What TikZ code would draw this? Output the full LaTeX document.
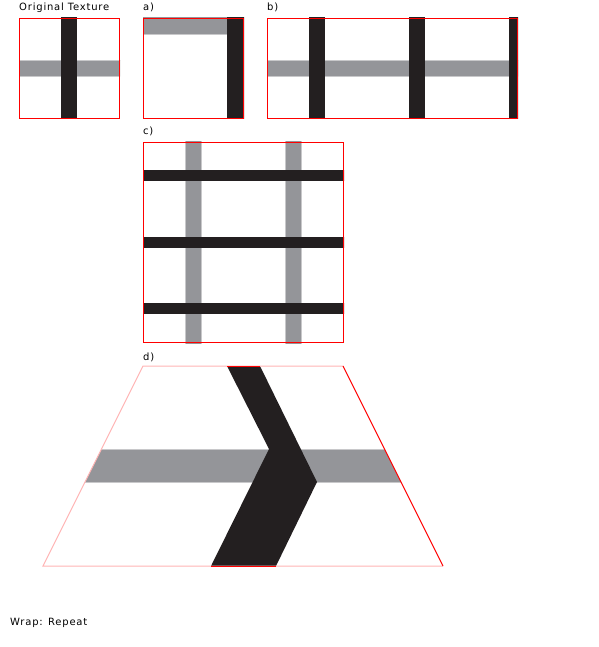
\documentclass[tikz,border=0pt]{standalone}
\usepackage{fontspec}
\setmainfont[LetterSpace=8]{DejaVu Sans}
\usepackage{xcolor}
\usepackage{tikz}

\definecolor{texgray}{RGB}{148,149,153}
\definecolor{texblack}{RGB}{35,31,32}
\definecolor{edgegray}{RGB}{200,200,202}
\definecolor{texred}{RGB}{255,0,0}
\definecolor{texpink}{RGB}{255,180,180}

\begin{document}
\begin{tikzpicture}[
    x=1pt, y=-1pt,
    every node/.style={font=\fontsize{10}{12}\selectfont, inner sep=0pt, anchor=base west},
    redframe/.style={draw=texred, line width=1pt},
    softframe/.style={draw=texpink, line width=1pt},
    grayband/.style={fill=texgray, draw=edgegray, line width=0.4pt},
    blackband/.style={fill=texblack}
]
    \useasboundingbox (0,0) rectangle (598,647);

    % Titel
    \node (orig) at (19,11) {Original Texture};
    \node (la) at (143,11) {a)};
    \node (lb) at (267,11) {b)};
    \node (lc) at (143,135) {c)};
    \node (ld) at (143,360) {d)};
    \node (wrap) at (10,625) {Wrap: Repeat};

    % Originaltextur
    \begin{scope}
        \clip (19,18) rectangle (120,119);
        \fill[grayband] (15,60) rectangle (123,76);
        \fill[blackband] (61,14) rectangle (77,122);
    \end{scope}
    \draw[redframe] (19.5,18.5) rectangle (119.5,118.5);

    % a) verschoben
    \begin{scope}
        \clip (143,18) rectangle (244,119);
        \fill[grayband] (139,14) rectangle (227,34);
        \fill[blackband] (227,14) rectangle (247,122);
    \end{scope}
    \draw[redframe] (143.5,18.5) rectangle (243.5,118.5);

    % b) horizontal wiederholt
    \begin{scope}
        \clip (267,18) rectangle (518,119);
        \fill[grayband] (263,60) rectangle (521,76);
        \foreach \xa in {309,409,509}
            \fill[blackband] (\xa,14) rectangle ({\xa+16},122);
    \end{scope}
    \draw[redframe] (267.5,18.5) rectangle (517.5,118.5);

    % c) gedreht
    \begin{scope}
        \clip (143,142) rectangle (344,343);
        \foreach \xa in {185,285}
            \fill[grayband] (\xa,138) rectangle ({\xa+16},346);
        \foreach \ya in {170,237,303}
            \fill[blackband] (139,\ya) rectangle (347,{\ya+11});
    \end{scope}
    \draw[redframe] (143.5,142.5) rectangle (343.5,342.5);

    % d) perspektivisch
    \begin{scope}
        \clip (143,366) -- (343,366) -- (443,566) -- (43,566) -- cycle;
        \fill[grayband] (30,449) rectangle (460,482);
        \fill[blackband] (227,366) -- (260,366) -- (317,482) -- (276,566)
            -- (211,566) -- (269,449) -- cycle;
    \end{scope}
    \draw[softframe] (343,366) -- (143,366) -- (43,566) -- (443,566);
    \draw[redframe] (343,366) -- (443,566);
    \draw[redframe] (227,366) -- (260,366);
    \draw[redframe] (211,566) -- (276,566);

\end{tikzpicture}
\end{document}
